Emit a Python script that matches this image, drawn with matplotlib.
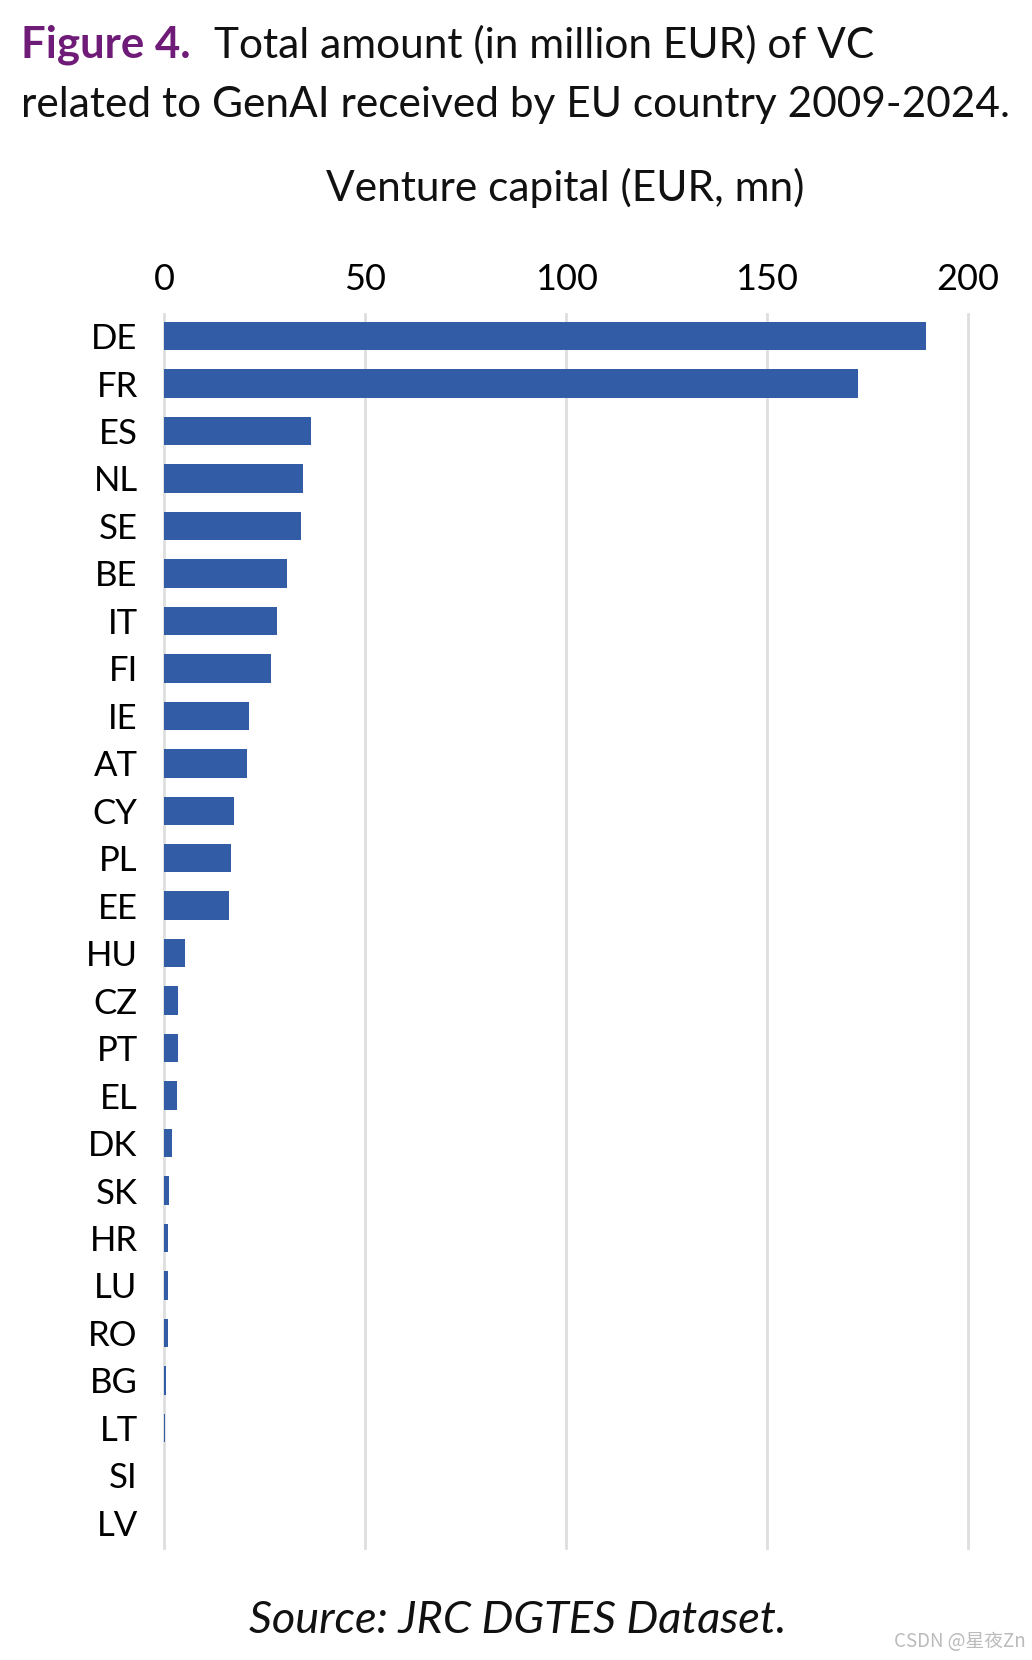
import matplotlib
matplotlib.use("Agg")
import matplotlib.pyplot as plt

countries = ["DE", "FR", "ES", "NL", "SE", "BE", "IT", "FI", "IE", "AT", "CY", "PL", "EE",
             "HU", "CZ", "PT", "EL", "DK", "SK", "HR", "LU", "RO", "BG", "LT", "SI", "LV"]
values = [189.6, 172.6, 36.6, 34.6, 34.0, 30.6, 28.2, 26.6, 21.2, 20.6, 17.4, 16.7, 16.2,
          5.3, 3.5, 3.5, 3.3, 2.0, 1.1, 0.9, 0.9, 0.9, 0.6, 0.15, 0.0, 0.0]
xticks = [0, 50, 100, 150, 200]

plt.rcParams['font.family'] = ['Lato', 'DejaVu Sans']

fig = plt.figure(figsize=(10.32, 16.6), dpi=100)
ax = fig.add_axes([0.159, 0.0675, 0.779, 0.7435])

ypos = list(range(len(countries)))
ax.barh(ypos, values, height=0.6, color="#335CA6", zorder=3)
ax.set_ylim(len(countries) - 0.47, -0.47)
ax.set_xlim(0, 200)
ax.set_yticks(ypos)
ax.set_yticklabels(countries, fontsize=25)
ax.set_xticks(xticks)
ax.set_xticklabels([str(t) for t in xticks], fontsize=26)
ax.xaxis.tick_top()
ax.tick_params(axis='y', length=0, pad=19)
ax.tick_params(axis='x', length=0, pad=13)
for s in ax.spines.values():
    s.set_visible(False)
for t in xticks:
    ax.axvline(t, color="#DEDEDE", lw=2, zorder=1, clip_on=False)

fig.text(0.0205, 0.973, "Figure 4.", fontsize=31.5, color="#6E1C78", weight='bold', va='center', ha='left')
fig.text(0.207, 0.973, "Total amount (in million EUR) of VC", fontsize=30.5, color="#111111", va='center', ha='left')
fig.text(0.0205, 0.937, "related to GenAI received by EU country 2009-2024.", fontsize=30.5, color="#111111", va='center', ha='left')
fig.text(0.548, 0.887, "Venture capital (EUR, mn)", fontsize=30.5, color="#111111", va='center', ha='center')
fig.text(0.502, 0.0235, "Source: JRC DGTES Dataset.", fontsize=32.5, style='italic', color="#111111", va='center', ha='center')
fig.text(0.994, 0.011, "CSDN @星夜Zn", fontsize=13.5, color="#BBBBBB", va='center', ha='right',
         family=['Noto Sans CJK SC', 'DejaVu Sans'])

fig.savefig("out.png", dpi=100, facecolor="white")
